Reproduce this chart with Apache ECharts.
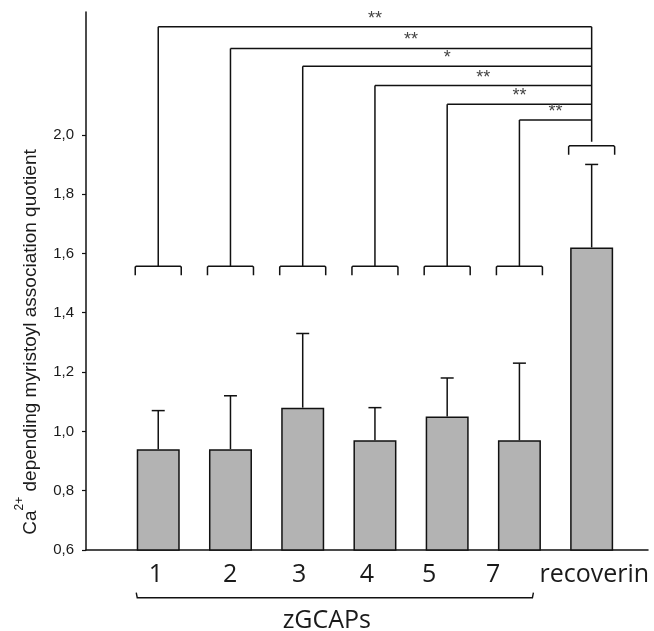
<!DOCTYPE html>
<html>
<head>
<meta charset="utf-8">
<script src="https://cdn.jsdelivr.net/npm/echarts@6/dist/echarts.min.js"></script>
<style>
html,body{margin:0;padding:0;background:#fff;}
#chart{width:654px;height:631px;}
</style>
</head>
<body>
<div id="chart"></div>
<script>
// ---- data ----
const categories = ['1', '2', '3', '4', '5', '7', 'recoverin'];
const means = [0.94, 0.94, 1.08, 0.97, 1.05, 0.97, 1.62];
const errorTops = [1.07, 1.12, 1.33, 1.08, 1.18, 1.23, 1.90];
const yTickValues = [0.6, 0.8, 1.0, 1.2, 1.4, 1.6, 1.8, 2.0];
const significance = ['**', '**', '*', '**', '**', '**'];
const comparisonLevels = [2.364, 2.291, 2.231, 2.166, 2.103, 2.050];
const groupBracketLevel = 1.557;
const referenceBracketLevel = 1.963;
const groupLabel = 'zGCAPs';
const yTitleMain = 'Ca';
const yTitleSup = '2+';
const yTitleRest = ' depending myristoyl association quotient';

// ---- layout ----
const labelAnchors = [0.967, 1.994, 2.95, 3.89, 4.75, 5.637, 7.036];
const INK = '#111';
const LW = 1.5;

const chart = echarts.init(document.getElementById('chart'), null, {renderer: 'canvas'});

const barData = means.map((m, i) => [i + 1, m]);
const errData = means.map((m, i) => [i + 1, m, errorTops[i]]);
const refX = categories.length;
const sigData = significance.map((s, i) => [i + 1, comparisonLevels[i], refX]);

function lineEl(x1, y1, x2, y2) {
  return {type: 'line', shape: {x1, y1, x2, y2}, style: {stroke: INK, lineWidth: LW}};
}
function bracketEl(cx, y, half, drop) {
  return {type: 'polyline', shape: {points: [[cx - half, y + drop], [cx - half, y + 1], [cx - half + 1, y], [cx + half - 1, y], [cx + half, y + 1], [cx + half, y + drop]]},
    style: {stroke: INK, lineWidth: LW, fill: null}};
}

const option = {
  animation: false,
  backgroundColor: '#fff',
  grid: {left: 86, right: 6, top: 12, bottom: 81, containLabel: false, outerBoundsMode: 'none'},
  xAxis: {
    type: 'value', min: 0, max: 7.78,
    axisLine: {show: true, onZero: false, lineStyle: {color: INK, width: LW}},
    axisTick: {show: false},
    splitLine: {show: false},
    axisLabel: {
      customValues: labelAnchors,
      formatter: v => categories[Math.round(v) - 1] || '',
      fontFamily: 'Open Sans', fontSize: 25, color: '#1a1a1a',
      margin: 25, verticalAlign: 'middle', hideOverlap: false
    }
  },
  yAxis: {
    type: 'value', min: 0.6, max: 2.414,
    axisLine: {show: true, onZero: false, lineStyle: {color: INK, width: LW}},
    axisTick: {show: true, customValues: yTickValues, length: 4, lineStyle: {color: INK, width: 1.2}},
    splitLine: {show: false},
    axisLabel: {
      customValues: yTickValues,
      formatter: v => v.toFixed(1).replace('.', ','),
      fontFamily: 'Liberation Sans', fontSize: 15, color: '#1a1a1a', margin: 12
    }
  },
  graphic: [{
    type: 'text', x: 27, y: 342, rotation: Math.PI / 2,
    style: {
      text: '{n|' + yTitleMain + '}{s|' + yTitleSup + '}{n|' + yTitleRest + '}',
      align: 'center', verticalAlign: 'middle',
      rich: {
        n: {fontFamily: 'Liberation Sans', fontSize: 19, lineHeight: 26, fill: '#1a1a1a', verticalAlign: 'bottom'},
        s: {fontFamily: 'Liberation Sans', fontSize: 12, lineHeight: 26, fill: '#1a1a1a', verticalAlign: 'top', padding: [0, 0, 0, 0]}
      }
    }
  }],
  series: [
    {
      type: 'bar', data: barData, barWidth: 43,
      itemStyle: {color: '#b3b3b3', borderColor: INK, borderWidth: 1.5},
      z: 3
    },
    {
      type: 'custom', data: errData, encode: {x: 0, y: [1, 2]}, z: 2, clip: false,
      renderItem(params, api) {
        const x = api.value(0);
        const p0 = api.coord([x, api.value(1)]);
        const p1 = api.coord([x, api.value(2)]);
        return {type: 'group', children: [
          lineEl(p0[0], p0[1], p1[0], p1[1]),
          lineEl(p1[0] - 6.5, p1[1], p1[0] + 6.5, p1[1])
        ]};
      }
    },
    {
      type: 'custom', data: sigData, encode: {x: 0, y: 1}, z: 4, clip: false,
      renderItem(params, api) {
        const gx = api.value(0);
        const lvl = api.value(1);
        const rx = api.value(2);
        const pb = api.coord([gx, groupBracketLevel]);
        const pl = api.coord([gx, lvl]);
        const pr = api.coord([rx, lvl]);
        const children = [
          bracketEl(pb[0], pb[1], 23, 9),
          lineEl(pb[0], pb[1], pl[0], pl[1]),
          lineEl(pl[0], pl[1], pr[0], pr[1]),
          {type: 'text', x: (pl[0] + pr[0]) / 2, y: pl[1] + 1,
           style: {text: significance[params.dataIndex], align: 'center', verticalAlign: 'bottom',
                   fontFamily: 'Liberation Sans', fontSize: 18, fill: '#444'}}
        ];
        if (params.dataIndex === 0) {
          const topLvl = Math.max.apply(null, comparisonLevels);
          const rt = api.coord([rx, topLvl]);
          const rb = api.coord([rx, referenceBracketLevel]);
          children.push(lineEl(rt[0], rt[1], rb[0], rb[1] - 4));
          children.push(bracketEl(rb[0], rb[1], 23, 9));
        }
        return {type: 'group', children};
      }
    },
    {
      type: 'custom', data: [[1, 6]], z: 4, clip: false,
      renderItem(params, api) {
        const a = api.coord([api.value(0), 0.6]);
        const b = api.coord([api.value(1), 0.6]);
        const y = a[1] + 47.7;
        const x1 = a[0] - 22, x2 = b[0] + 14;
        return {type: 'group', children: [
          {type: 'polyline', shape: {points: [[x1, y - 5], [x1 + 1, y], [x2 - 1, y], [x2, y - 5]]},
           style: {stroke: INK, lineWidth: 1.4, fill: null}},
          {type: 'text', x: (x1 + x2) / 2 - 8, y: y + 22.8,
           style: {text: groupLabel, align: 'center', verticalAlign: 'middle',
                   fontFamily: 'Open Sans', fontSize: 25, fill: '#1a1a1a'}}
        ]};
      }
    }
  ]
};
chart.setOption(option);
</script>
</body>
</html>
